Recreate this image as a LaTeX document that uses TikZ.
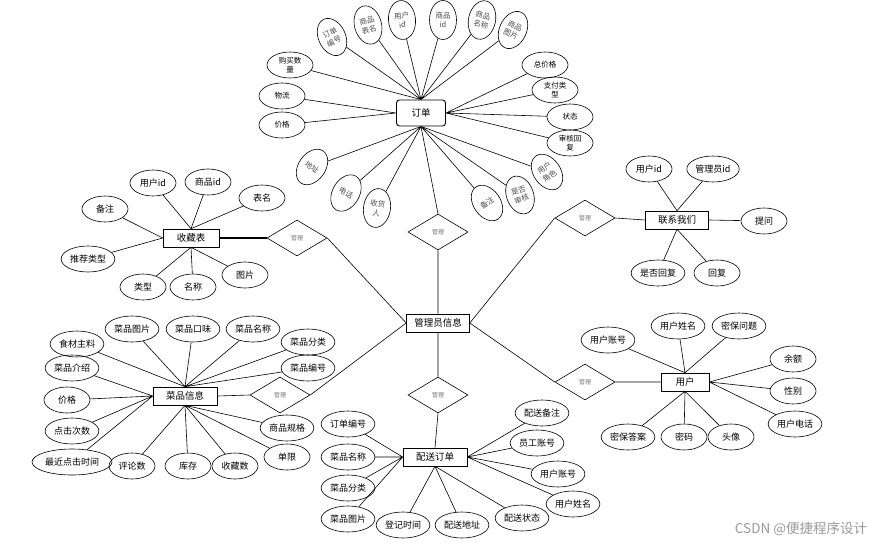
\documentclass[tikz,border=0pt]{standalone}
\usepackage{fontspec}
\setmainfont{Noto Sans CJK SC}
\usetikzlibrary{shapes.geometric}

\begin{document}
\begin{tikzpicture}[x=1pt,y=-1pt,line width=0.6pt,
  ent/.style={draw,rectangle,minimum height=18pt,inner sep=1pt,font=\fontsize{9.5}{11}\selectfont},
  attr/.style={draw,ellipse,minimum width=46pt,minimum height=26pt,inner sep=1pt,font=\fontsize{9}{10}\selectfont},
  sattr/.style={draw,ellipse,minimum width=46pt,minimum height=26pt,inner sep=0pt,align=center,font=\fontsize{7.5}{9}\selectfont},
  oval/.style={draw,ellipse,minimum width=27pt,minimum height=39pt,inner sep=0pt,align=center,text=black!70,font=\fontsize{7.5}{9.5}\selectfont},
  rel/.style={draw,diamond,minimum width=60pt,minimum height=36pt,aspect=1.67,inner sep=0pt,text=black!55,font=\fontsize{6}{7}\selectfont}]

\useasboundingbox (0,0) rectangle (885,546);

% order
\node [ent,rounded corners=3pt,line width=0.9pt,minimum width=49pt,minimum height=26pt] (ord) at (421,113) {订单};

\node [oval,rotate=25] (t1) at (332,37) {订单\\编号};
\node [oval,rotate=15] (t2) at (368,25) {商品\\表名};
\node [oval,rotate=5] (t3) at (402,20) {用户\\id};
\node [oval] (t4) at (443,20) {商品\\id};
\node [oval,rotate=-12] (t5) at (482,20) {商品\\名称};
\node [oval,rotate=-25] (t6) at (513,30) {商品\\图片};
\node [oval,rotate=-35] (t7) at (312,167) {地址};
\node [oval,rotate=-30] (t8) at (346,193) {电话};
\node [oval,rotate=-8] (t9) at (377,208) {收货\\人};
\node [oval,rotate=35] (t10) at (487,203) {备注};
\node [oval,rotate=20] (t11) at (520,195) {是否\\审核};
\node [oval,rotate=35] (t12) at (547,172) {用户\\角色};

\node [sattr] (a1) at (290,65) {购买数\\量};
\node [sattr] (a2) at (282,96) {物流};
\node [sattr] (a3) at (282,125) {价格};
\node [sattr] (a4) at (545,65) {总价格};
\node [sattr] (a5) at (555,90) {支付类\\型};
\node [sattr] (a6) at (570,117) {状态};
\node [sattr] (a7) at (570,143) {审核回\\复};

\path [draw]
    (ord.north) -- (t1) (ord.north) -- (t2) (ord.north) -- (t3)
    (ord.north) -- (t4) (ord.north) -- (t5) (ord.north) -- (t6)
    (ord.north) -- (a1)
    (ord.west) -- (a2) (ord.west) -- (a3)
    (ord.east) -- (a4) (ord.east) -- (a5) (ord.east) -- (a6) (ord.east) -- (a7)
    (ord.south) -- (t7) (ord.south) -- (t8) (ord.south) -- (t9)
    (ord.south) -- (t10) (ord.south) -- (t11) (ord.south) -- (t12)
;

% collection
\node [ent,minimum width=56pt] (col) at (191,238) {收藏表};

\node [attr] (c1) at (153,183) {用户id};
\node [attr] (c2) at (208,182) {商品id};
\node [attr] (c3) at (262,198) {表名};
\node [attr] (c4) at (105,209) {备注};
\node [attr] (c5) at (88,259) {推荐类型};
\node [attr] (c6) at (143,287) {类型};
\node [attr] (c7) at (193,287) {名称};
\node [attr] (c8) at (245,275) {图片};

\path [draw]
    (col.north) -- (c1) (col.north) -- (c2) (col.north) -- (c3)
    (col.west) -- (c4) (col.west) -- (c5)
    (col.south) -- (c6) (col.south) -- (c7) (col.south) -- (c8)
;

% contact
\node [ent,minimum width=63pt] (con) at (677,220) {联系我们};

\node [attr] (k1) at (649,169) {用户id};
\node [attr] (k2) at (713,169) {管理员id};
\node [attr] (k3) at (764,221) {提问};
\node [attr] (k4) at (658,273) {是否回复};
\node [attr] (k5) at (717,273) {回复};

\path [draw]
    (con.north) -- (k1) (con.north) -- (k2)
    (con.east) -- (k3)
    (con.south) -- (k4) (con.south) -- (k5)
;

% dishes
\node [ent,minimum width=64pt] (dish) at (185,396) {菜品信息};

\node [attr] (d1) at (77,344) {食材主料};
\node [attr] (d2) at (132,329) {菜品图片};
\node [attr] (d3) at (193,329) {菜品口味};
\node [attr] (d4) at (253,329) {菜品名称};
\node [attr] (d5) at (308,342) {菜品分类};
\node [attr] (d6) at (308,368) {菜品编号};
\node [attr] (d7) at (72,368) {菜品介绍};
\node [attr] (d8) at (67,400) {价格};
\node [attr] (d9) at (72,431) {点击次数};
\node [attr,minimum width=80pt] (d10) at (72,462) {最近点击时间};
\node [attr] (d11) at (132,466) {评论数};
\node [attr] (d12) at (188,466) {库存};
\node [attr] (d13) at (235,466) {收藏数};
\node [attr] (d14) at (287,428) {商品规格};
\node [attr] (d15) at (287,457) {单限};

\path [draw]
    (dish.north) -- (d1) (dish.north) -- (d2) (dish.north) -- (d3)
    (dish.north) -- (d4) (dish.north) -- (d5) (dish.north) -- (d6)
    (dish.west) -- (d7) (dish.west) -- (d8) (dish.west) -- (d9) (dish.west) -- (d10)
    (dish.south) -- (d11) (dish.south) -- (d12) (dish.south) -- (d13)
    (dish.south) -- (d14) (dish.south) -- (d15)
;

% delivery
\node [ent,minimum width=64pt] (del) at (435,457) {配送订单};

\node [attr] (p1) at (348,424) {订单编号};
\node [attr] (p2) at (348,457) {菜品名称};
\node [attr] (p3) at (348,488) {菜品分类};
\node [attr] (p4) at (348,519) {菜品图片};
\node [attr] (p5) at (403,525) {登记时间};
\node [attr] (p6) at (462,525) {配送地址};
\node [attr] (p7) at (522,518) {配送状态};
\node [attr] (p8) at (573,504) {用户姓名};
\node [attr] (p9) at (558,474) {用户账号};
\node [attr] (p10) at (537,443) {员工账号};
\node [attr] (p11) at (542,413) {配送备注};

\path [draw]
    (del.west) -- (p1) (del.west) -- (p2) (del.west) -- (p3) (del.west) -- (p4)
    (del.south) -- (p5) (del.south) -- (p6) (del.south) -- (p7)
    (del.east) -- (p8) (del.east) -- (p9) (del.east) -- (p10) (del.east) -- (p11)
;

% user
\node [ent,minimum width=48pt] (usr) at (685,382) {用户};

\node [attr] (u1) at (608,340) {用户账号};
\node [attr] (u2) at (678,326) {用户姓名};
\node [attr] (u3) at (739,326) {密保问题};
\node [attr] (u4) at (793,359) {余额};
\node [attr] (u5) at (793,391) {性别};
\node [attr] (u6) at (795,424) {用户电话};
\node [attr] (u7) at (731,437) {头像};
\node [attr] (u8) at (684,437) {密码};
\node [attr] (u9) at (628,437) {密保答案};

\path [draw]
    (usr.north) -- (u1) (usr.north) -- (u2) (usr.north) -- (u3)
    (usr.east) -- (u4) (usr.east) -- (u5) (usr.east) -- (u6)
    (usr.south) -- (u7) (usr.south) -- (u8) (usr.south) -- (u9)
;

% admin and relations
\node [ent,minimum width=63pt] (adm) at (438,323) {管理员信息};

\node [rel] (m1) at (297,238) {管理};
\node [rel] (m2) at (585,218) {管理};
\node [rel] (m3) at (438,232) {管理};
\node [rel] (m4) at (438,395) {管理};
\node [rel] (m5) at (280,395) {管理};
\node [rel] (m6) at (585,382) {管理};

\draw [line width=1.3pt] (col.east) -- (m1.west);
\path [draw]
    (m1.east) -- (adm.west)
    (m5.east) -- (adm.west)
    (dish.east) -- (m5.west)
    (adm.east) -- (m2.west)
    (m2.east) -- (con.west)
    (adm.east) -- (m6.west)
    (m6.east) -- (usr.west)
    (ord.south) -- (m3.north)
    (m3.south) -- (adm.north)
    (adm.south) -- (m4.north)
    (m4.south) -- (del.north)
;

\node [text=black!40,font=\fontsize{13.5}{14}\selectfont] (wm) at (801,529) {CSDN @便捷程序设计};

\end{tikzpicture}
\end{document}
